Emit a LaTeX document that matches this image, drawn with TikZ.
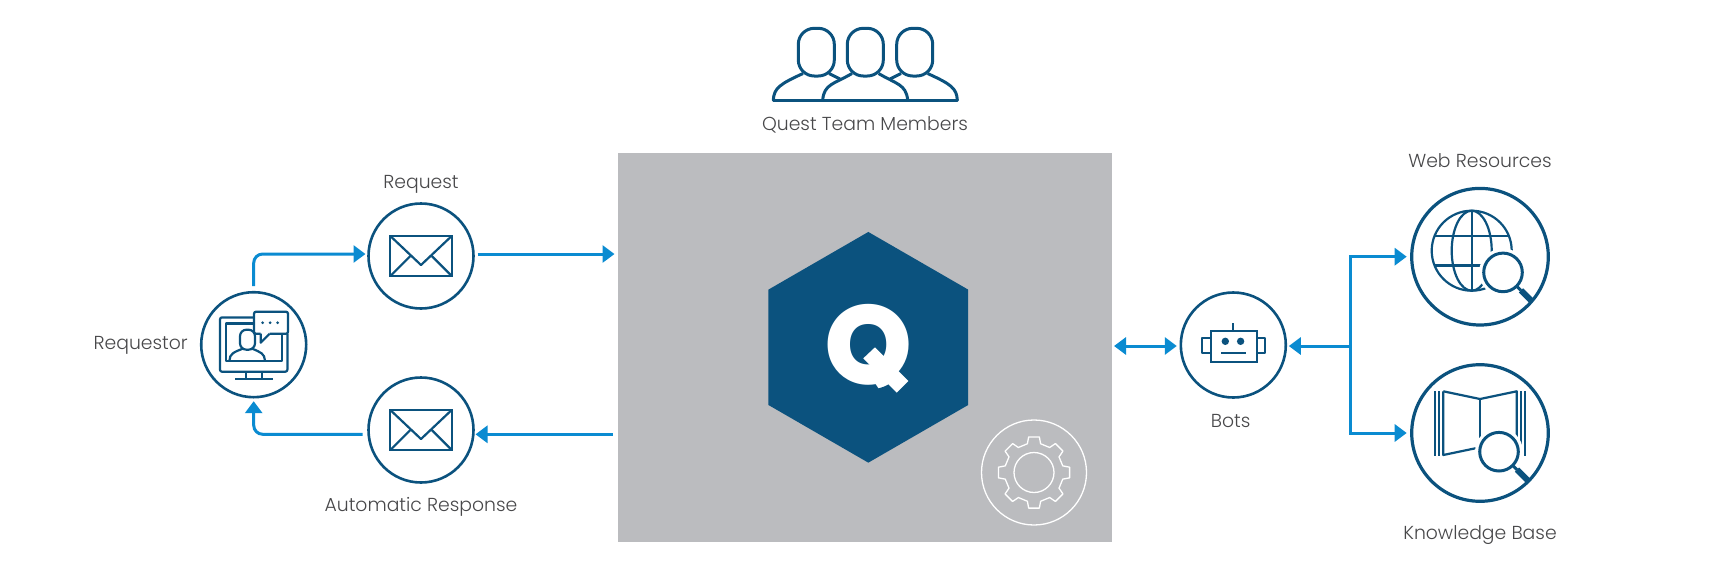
\documentclass[tikz,border=0pt]{standalone}
\usepackage{fontspec}
\usetikzlibrary{arrows.meta,shapes.geometric}
\setmainfont{Poppins Light}
\newfontfamily\logofont{Poppins ExtraBold}
\definecolor{questblue}{HTML}{0B527E}
\definecolor{flowblue}{HTML}{0A8BD1}
\definecolor{boxgrey}{HTML}{BBBCBF}
\definecolor{textgrey}{HTML}{48484A}
\tikzset{
    ring/.style={circle,draw=questblue,line width=2.6pt,inner sep=0pt,outer sep=0pt,fill=white},
    icon/.style={draw=questblue,line width=2.2pt,line join=round},
    flow/.style={draw=flowblue,line width=3pt,-{Triangle[length=12pt,width=17pt]}},
    caption/.style={text=textgrey,font=\fontsize{18.8}{21}\selectfont,inner sep=0pt},
    envelope/.pic={
        \draw[icon,line join=miter] (-30.7,-20) rectangle (30.7,20);
        \draw[icon] (-30.7,-20) -- (0,9) -- (30.7,-20);
        \draw[icon] (-30.7,20) -- (-10.7,0);
        \draw[icon] (30.7,20) -- (10.7,0);
    },
    lens/.pic={
        \fill[white] (0,0) circle(24);
        \draw[icon,line width=3pt] (0,0) circle(19.3);
        \draw[icon,line width=3pt] (13.6,13.6) -- (18,18);
        \draw[questblue,line width=6pt] (18,18) -- (29,29);
    }
}
\begin{document}
\begin{tikzpicture}[x=1pt,y=-1pt]
    \useasboundingbox (0,0) rectangle (1736,587);
    \node[fill=boxgrey,minimum width=494.5pt,minimum height=388.5pt,inner sep=0pt,outer sep=0pt] (quest) at (864.75,347.5) {};
    \node[regular polygon,regular polygon sides=6,shape border rotate=30,fill=questblue,minimum size=230.7pt,inner sep=0pt,outer sep=0pt] (hexagon) at (868.3,347.3) {};
    \node[text=white,inner sep=0pt,font=\logofont\fontsize{112}{112}\selectfont] (logo) at (868.3,351) {Q};
    \fill[questblue] (868.3,389.6) arc[start angle=90,end angle=15,radius=42.3] -- (925,405) -- (868.3,410) -- cycle;
    \fill[white] (863.3,358.3) -- (875,347.3) -- (908.3,381) -- (896.7,392.7) -- cycle;
    \node[circle,draw=white,line width=1.3pt,minimum size=105pt,inner sep=0pt] (gearring) at (1034,472.5) {};
    \begin{scope}[shift={(gearring.center)}]
        \draw[white,line width=1.3pt,line join=round] (0,0) circle(20);
        \draw[white,line width=1.3pt,line join=round]
            (-13:29.5) -- (-8.5:36) -- (8.5:36) -- (13:29.5) --
            (32:29.5) -- (36.5:36) -- (53.5:36) -- (58:29.5) --
            (77:29.5) -- (81.5:36) -- (98.5:36) -- (103:29.5) --
            (122:29.5) -- (126.5:36) -- (143.5:36) -- (148:29.5) --
            (167:29.5) -- (171.5:36) -- (188.5:36) -- (193:29.5) --
            (212:29.5) -- (216.5:36) -- (233.5:36) -- (238:29.5) --
            (257:29.5) -- (261.5:36) -- (278.5:36) -- (283:29.5) --
            (302:29.5) -- (306.5:36) -- (323.5:36) -- (328:29.5) -- cycle;
    \end{scope}

    \node[ring,minimum size=105pt] (requestor) at (253.7,344.7) {};
    \node[ring,minimum size=105pt] (request) at (421,256) {};
    \node[ring,minimum size=105pt] (response) at (421,430) {};
    \node[ring,minimum size=105pt] (bots) at (1233.3,345) {};
    \node[ring,line width=3.2pt,minimum size=136.6pt] (web) at (1480,256.7) {};
    \node[ring,line width=3.2pt,minimum size=136.6pt] (knowledge) at (1480,433) {};

    \node[caption] (requesttext) at (421,184.5) {Request};
    \node[caption] (requestortext) at (140.7,345.5) {Requestor};
    \node[caption] (responsetext) at (421,507) {Automatic Response};
    \node[caption] (botstext) at (1230.7,420.5) {Bots};
    \node[caption] (webtext) at (1480,160.7) {Web Resources};
    \node[caption] (knowledgetext) at (1480,535) {Knowledge Base};
    \node[caption] (teamtext) at (865,125) {Quest Team Members};

    \coordinate (upper) at (0,254);
    \coordinate (lower) at (0,434.3);
    \coordinate (fork) at (1350,346);
    \draw[flow,rounded corners=9pt,shorten <=6pt,shorten >=3pt] (requestor.north) |- (request.west |- upper);
    \draw[flow,shorten <=4pt,shorten >=3pt] (request.east |- upper) -- (quest.west |- upper);
    \draw[flow,shorten <=5pt,shorten >=2pt] (quest.west |- lower) -- (response.east |- lower);
    \draw[flow,rounded corners=9pt,shorten <=6pt,shorten >=4pt] (response.west |- lower) -| (requestor.south);
    \draw[flow,{Triangle[length=12pt,width=17pt]}-{Triangle[length=12pt,width=17pt]},shorten <=2pt,shorten >=4pt] (quest.east |- fork) -- (bots.west |- fork);
    \draw[flow,shorten >=3pt] (fork) -- (bots.east |- fork);
    \draw[flow,shorten >=5pt] (fork) |- (web.west);
    \draw[flow,shorten >=5pt] (fork) |- (knowledge.west);

    \pic at (request) {envelope};
    \pic at (response) {envelope};

    \begin{scope}[shift={(requestor.center)}]
        \draw[icon,rounded corners=2pt] (0.6,-27.3) -- (-33.7,-27.3) -- (-33.7,27) -- (33.7,27) -- (33.7,-11);
        \draw[icon] (0.6,-21.3) -- (-27.7,-21.3) -- (-27.7,16) -- (28,16) -- (28,-11);
        \draw[icon,fill=white,rounded corners=2pt] (7,-11) -- (0.3,-11) -- (0.3,-33) -- (34.3,-33) -- (34.3,-11) -- (16,-11);
        \draw[icon] (7,-11) -- (7,-2) -- (16,-11);
        \fill[questblue] (9,-22) circle(1.5);
        \fill[questblue] (16.5,-22) circle(1.5);
        \fill[questblue] (24,-22) circle(1.5);
        \draw[icon,rounded corners=6.5pt] (-13.7,-15) rectangle (1.3,5);
        \draw[icon] (-24.3,16) .. controls (-24,9) and (-20,7.5) .. (-11,4);
        \draw[icon] (11.3,16) .. controls (11,9) and (7,7.5) .. (-1.5,4);
        \draw[icon] (-7.7,27) -- (-7.7,34);
        \draw[icon] (8.3,27) -- (8.3,34);
        \draw[icon] (-18.7,34) -- (19,34);
    \end{scope}

    \begin{scope}[shift={(bots.center)}]
        \draw[icon,line join=miter] (-22.7,-14.3) rectangle (23.3,17.3);
        \draw[icon] (-22.7,-6.7) -- (-31.7,-6.7) -- (-31.7,8.3) -- (-22.7,8.3);
        \draw[icon] (23.3,-6.7) -- (31.7,-6.7) -- (31.7,8.3) -- (23.3,8.3);
        \draw[icon] (0,-14.3) -- (0,-21.7);
        \fill[questblue] (-8,-3.7) circle(3.7);
        \fill[questblue] (7.3,-3.7) circle(3.7);
        \draw[icon] (-12.3,8.3) -- (12.7,8.3);
    \end{scope}

    \begin{scope}[shift={(web.center)}]
        \draw[icon] (-8.3,-6) circle(40);
        \draw[icon] (-8.3,-6) ellipse(20 and 40);
        \draw[icon] (-8.3,-46) -- (-8.3,34);
        \draw[icon] (-46.5,-20.7) -- (29.9,-20.7);
        \draw[icon] (-46.5,8.7) -- (29.9,8.7);
        \pic at (23,15.7) {lens};
    \end{scope}

    \begin{scope}[shift={(knowledge.center)}]
        \draw[icon] (-45,-41.7) -- (-45,23);
        \draw[icon] (-41,-41.7) -- (-41,23);
        \draw[icon] (45,-41.7) -- (45,23);
        \draw[icon] (41,-41.7) -- (41,23);
        \draw[icon] (-36.7,-41.7) -- (0,-34) -- (36.7,-41.7) -- (36.7,23);
        \draw[icon] (0,-34) -- (0,16);
        \draw[icon] (-36.7,-41.7) -- (-36.7,22) -- (-3.3,15);
        \pic at (19,18.7) {lens};
    \end{scope}

    \draw[icon,line width=3pt,rounded corners=16pt] (798.3,28.3) rectangle (834.3,76);
    \draw[icon,line width=3pt,rounded corners=16pt] (847.3,28.3) rectangle (883.3,76);
    \draw[icon,line width=3pt,rounded corners=16pt] (896.7,28.3) rectangle (932.7,76);
    \draw[icon,line width=3pt,line cap=round] (773.3,100) -- (957.3,100);
    \draw[icon,line width=3pt] (773.3,100) .. controls (774,88) and (780,84) .. (803,73.5);
    \draw[icon,line width=3pt] (829,73.5) -- (840,79);
    \draw[icon,line width=3pt] (890,79) -- (901,73.5);
    \draw[icon,line width=3pt] (957.3,100) .. controls (956.6,88) and (950.6,84) .. (927.6,73.5);
    \draw[icon,line width=3pt] (822.7,100) .. controls (824,84) and (834,84) .. (852,73.5);
    \draw[icon,line width=3pt] (907.7,100) .. controls (906,84) and (896,84) .. (878.6,73.5);
\end{tikzpicture}
\end{document}
